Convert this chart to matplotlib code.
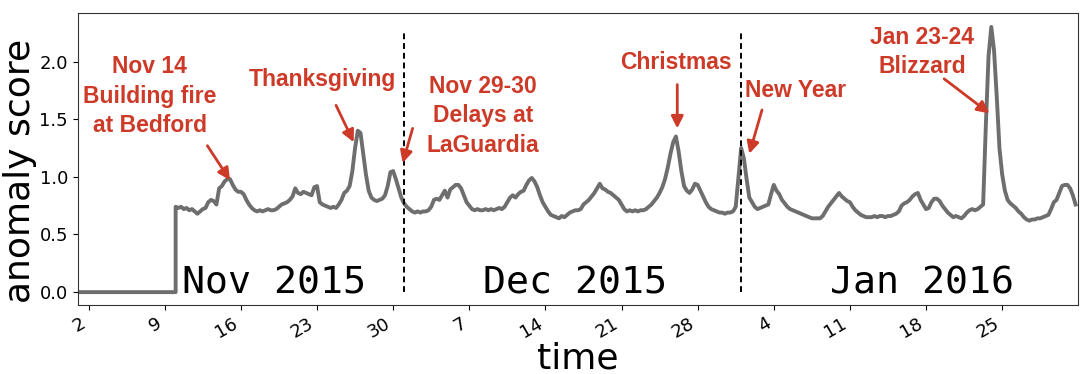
import numpy as np
import pandas as pd
import matplotlib
matplotlib.use("Agg")
import matplotlib.pyplot as plt
import matplotlib.dates as mdates

start = "2015-11-10 00:00"
score = [
    0.74, 0.73, 0.74, 0.72,  0.73, 0.71, 0.72, 0.70,  0.68, 0.70, 0.72, 0.73,
    0.78, 0.80, 0.79, 0.76,  0.90, 0.92, 0.96, 0.98,  0.98, 0.93, 0.89, 0.87,
    0.87, 0.85, 0.80, 0.76,  0.73, 0.71, 0.70, 0.71,  0.70, 0.71, 0.72, 0.71,
    0.71, 0.72, 0.74, 0.76,  0.77, 0.78, 0.80, 0.83,  0.90, 0.86, 0.85, 0.87,
    0.86, 0.85, 0.84, 0.91,  0.92, 0.78, 0.76, 0.75,  0.74, 0.73, 0.74, 0.73,
    0.76, 0.80, 0.86, 0.88,  0.92, 1.05, 1.25, 1.40,  1.38, 1.20, 1.02, 0.88,
    0.82, 0.80, 0.79, 0.80,  0.81, 0.84, 0.92, 1.04,  1.05, 0.98, 0.90, 0.82,
    0.77, 0.74, 0.72, 0.70,  0.69, 0.70, 0.69, 0.70,  0.70, 0.71, 0.74, 0.80,
    0.81, 0.80, 0.84, 0.88,  0.82, 0.89, 0.91, 0.93,  0.93, 0.90, 0.84, 0.78,
    0.75, 0.72, 0.71, 0.72,  0.71, 0.71, 0.72, 0.71,  0.72, 0.71, 0.72, 0.73,
    0.72, 0.74, 0.78, 0.82,  0.84, 0.82, 0.85, 0.87,  0.88, 0.93, 0.97, 0.99,
    0.96, 0.91, 0.84, 0.78,  0.74, 0.70, 0.67, 0.66,  0.65, 0.64, 0.66, 0.65,
    0.67, 0.69, 0.70, 0.71,  0.71, 0.72, 0.76, 0.78,  0.80, 0.83, 0.86, 0.90,
    0.94, 0.90, 0.89, 0.87,  0.86, 0.84, 0.82, 0.80,  0.76, 0.72, 0.70, 0.71,
    0.70, 0.71, 0.70, 0.71,  0.71, 0.72, 0.74, 0.76,  0.79, 0.82, 0.86, 0.91,
    0.98, 1.08, 1.20, 1.30,  1.35, 1.22, 1.05, 0.92,  0.88, 0.86, 0.89, 0.94,
    0.93, 0.88, 0.83, 0.78,  0.74, 0.72, 0.71, 0.70,  0.69, 0.69, 0.68, 0.69,
    0.69, 0.70, 0.74, 1.00,  1.25, 1.16, 0.98, 0.82,  0.78, 0.74, 0.72, 0.73,
    0.74, 0.75, 0.76, 0.85,  0.93, 0.88, 0.85, 0.80,  0.77, 0.74, 0.72, 0.71,
    0.70, 0.69, 0.68, 0.67,  0.66, 0.65, 0.64, 0.64,  0.64, 0.64, 0.66, 0.70,
    0.74, 0.77, 0.80, 0.83,  0.86, 0.83, 0.81, 0.79,  0.78, 0.74, 0.71, 0.69,
    0.67, 0.66, 0.65, 0.65,  0.65, 0.66, 0.65, 0.66,  0.66, 0.65, 0.66, 0.66,
    0.67, 0.68, 0.70, 0.75,  0.77, 0.78, 0.80, 0.83,  0.85, 0.86, 0.80, 0.76,
    0.72, 0.73, 0.78, 0.81,  0.81, 0.79, 0.75, 0.72,  0.69, 0.67, 0.65, 0.66,
    0.65, 0.64, 0.66, 0.69,  0.71, 0.72, 0.71, 0.72,  0.74, 0.76, 1.45, 2.05,
    2.30, 2.10, 1.70, 1.25,  1.02, 0.88, 0.80, 0.77,  0.75, 0.73, 0.70, 0.68,
    0.65, 0.63, 0.62, 0.63,  0.63, 0.64, 0.64, 0.65,  0.66, 0.67, 0.72, 0.78,
    0.80, 0.86, 0.92, 0.93,  0.93, 0.90, 0.84, 0.76,
]
# before the model starts the score is flat at zero
zero_times = ["2015-11-01 00:00", "2015-11-10 00:00"]
zero_score = [0.0, 0.0]

month_labels = ["Nov 2015", "Dec 2015", "Jan 2016"]
month_breaks = ["2015-12-01", "2016-01-01"]
events = ["Nov 14\nBuilding fire\nat Bedford", "Thanksgiving",
          "Nov 29-30\nDelays at\nLaGuardia", "Christmas", "New Year",
          "Jan 23-24\nBlizzard"]

t = pd.date_range(start, periods=len(score), freq="6h")
times = list(pd.to_datetime(zero_times)) + list(t)
vals = zero_score + score

red = "#cd3a28"
afont = dict(family=["Liberation Sans", "DejaVu Sans"], weight="bold",
             color=red, fontsize=16.5, ha="center", va="center", linespacing=1.35)

fig = plt.figure(figsize=(10.8, 3.74), dpi=100)
ax = fig.add_axes([0.072, 0.185, 0.926, 0.78])
ax.plot(times, vals, color="#6e6e6e", lw=2.8)

ax.vlines(pd.to_datetime(month_breaks), 0, 2.27, colors="k",
          linestyles=(0, (3, 2)), lw=1.4)

for lab, d in zip(month_labels, ["2015-11-10 14:00", "2015-12-08 06:00", "2016-01-09 04:00"]):
    ax.text(pd.Timestamp(d), -0.01, lab, family="DejaVu Sans Mono",
            fontsize=27.5, ha="left", va="baseline")

ts = pd.Timestamp
arrows = [
    (ts("2015-11-15 00:00"), 0.97, ts("2015-11-07 15:00"), 1.70, ts("2015-11-12 22:00"), 1.27),
    (ts("2015-11-26 09:00"), 1.30, ts("2015-11-23 11:00"), 1.84, ts("2015-11-24 18:00"), 1.62),
    (ts("2015-11-30 21:00"), 1.12, ts("2015-12-08 06:00"), 1.53, ts("2015-12-01 19:00"), 1.42),
    (ts("2015-12-26 03:00"), 1.42, ts("2015-12-26 00:00"), 1.99, ts("2015-12-26 03:00"), 1.80),
    (ts("2016-01-01 18:00"), 1.20, ts("2016-01-06 00:00"), 1.75, ts("2016-01-02 22:00"), 1.58),
    (ts("2016-01-23 20:00"), 1.55, ts("2016-01-17 15:00"), 2.08, ts("2016-01-19 16:00"), 1.85),
]
for txt, (x0, y0, xt, yt, xs, ys) in zip(events, arrows):
    ax.text(xt, yt, txt, **afont)
    ax.annotate("", xy=(x0, y0), xytext=(xs, ys),
                arrowprops=dict(arrowstyle="-|>", color=red, lw=2,
                                mutation_scale=18, shrinkA=0, shrinkB=0))

ax.set_xlim(ts("2015-11-01"), ts("2016-01-31 23:00"))
ax.set_ylim(-0.11, 2.42)
ax.set_yticks([0.0, 0.5, 1.0, 1.5, 2.0])
ax.xaxis.set_major_locator(mdates.WeekdayLocator(byweekday=mdates.MO))
ax.xaxis.set_major_formatter(mdates.DateFormatter("%-d"))
ax.tick_params(axis="both", labelsize=13)
for lab in ax.get_xticklabels():
    lab.set_rotation(30)
    lab.set_ha("right")
ax.set_ylabel("anomaly score", fontsize=26)
ax.yaxis.set_label_coords(-0.041, 0.46)
ax.set_xlabel("time", fontsize=26, labelpad=0)
for s in ax.spines.values():
    s.set_color("#333333")

fig.savefig("out.png", dpi=100)
